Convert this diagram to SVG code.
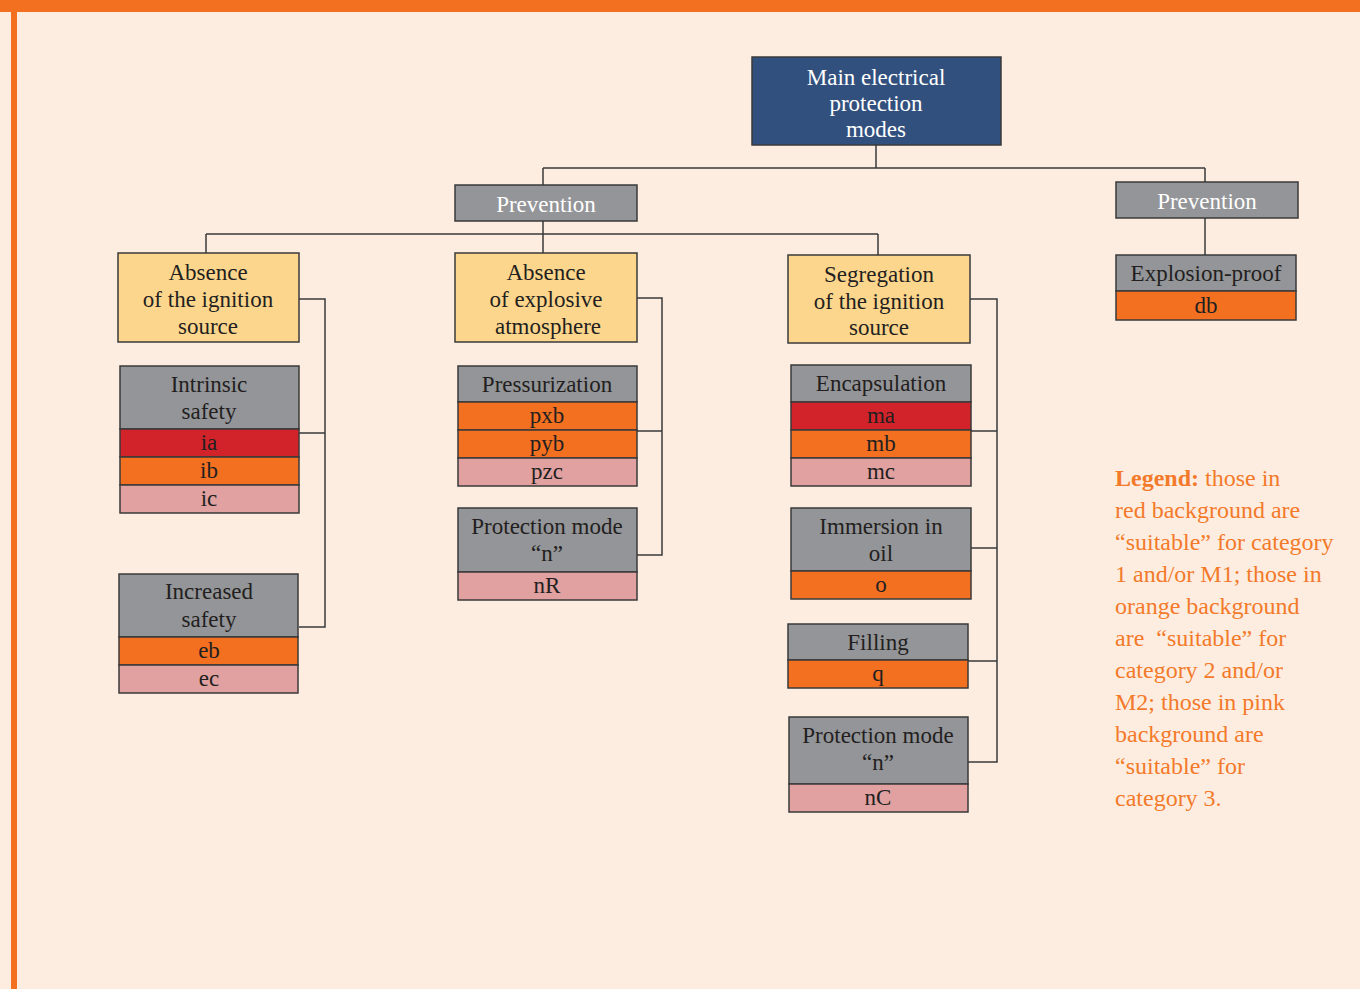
<svg xmlns="http://www.w3.org/2000/svg" width="1360" height="989" viewBox="0 0 1360 989">
<style>
text{font-family:"Liberation Serif","Times New Roman",serif;font-size:23px;text-anchor:middle;fill:#231f20}
.box{stroke:#3a3a3a;stroke-width:1.5}
.navy{fill:#32507e}
.gray{fill:#939598}
.yel{fill:#fdd68d}
.red{fill:#d2232a}
.org{fill:#f37021}
.pink{fill:#e0a1a0}
.w{fill:#ffffff}
.conn{fill:none;stroke:#3a3a3a;stroke-width:1.5}
.leg{font-size:24px;text-anchor:start;fill:#f37a2a}
</style>
<rect x="0" y="0" width="1360" height="989" fill="#fdede0"/>
<rect x="0" y="0" width="1360" height="12" fill="#f37021"/>
<rect x="11" y="0" width="6" height="989" fill="#f37021"/>

<g id="connectors" class="conn">
<path d="M876 145V168M543 168H1205M543 168V185M1205 168V182"/>
<path d="M543 221V234M206 234H878M206 234V253M543 234V253M878 234V255"/>
<path d="M1205 218V255"/>
<path d="M299 299H325V627H299M299 433H325"/>
<path d="M637 298H662V555H637M637 431H662"/>
<path d="M970 299H997V762H968M971 431H997M971 548H997M968 661H997"/>
</g>

<g id="main">
<rect class="box navy" x="752" y="57" width="249" height="88"/>
<text class="w" x="876" y="85">Main electrical</text>
<text class="w" x="876" y="111">protection</text>
<text class="w" x="876" y="137">modes</text>
</g>

<g id="prevention-left">
<rect class="box gray" x="455" y="185" width="182" height="36"/>
<text class="w" x="546" y="212">Prevention</text>
</g>

<g id="prevention-right">
<rect class="box gray" x="1116" y="182" width="182" height="36"/>
<text class="w" x="1207" y="209">Prevention</text>
</g>

<g id="absence-ignition">
<rect class="box yel" x="118" y="253" width="181" height="89"/>
<text x="208" y="280">Absence</text>
<text x="208" y="307">of the ignition</text>
<text x="208" y="334">source</text>
</g>

<g id="absence-explosive">
<rect class="box yel" x="455" y="253" width="182" height="89"/>
<text x="546" y="280">Absence</text>
<text x="546" y="307">of explosive</text>
<text x="548" y="334">atmosphere</text>
</g>

<g id="segregation">
<rect class="box yel" x="788" y="255" width="182" height="88"/>
<text x="879" y="282">Segregation</text>
<text x="879" y="309">of the ignition</text>
<text x="879" y="335">source</text>
</g>

<g id="intrinsic-safety">
<rect class="box gray" x="120" y="366" width="179" height="63"/>
<text x="209" y="392">Intrinsic</text>
<text x="209" y="419">safety</text>
<rect class="box red" x="120" y="429" width="179" height="28"/>
<text x="209" y="450">ia</text>
<rect class="box org" x="120" y="457" width="179" height="28"/>
<text x="209" y="478">ib</text>
<rect class="box pink" x="120" y="485" width="179" height="28"/>
<text x="209" y="506">ic</text>
</g>

<g id="increased-safety">
<rect class="box gray" x="119" y="574" width="179" height="63"/>
<text x="209" y="599">Increased</text>
<text x="209" y="627">safety</text>
<rect class="box org" x="119" y="637" width="179" height="28"/>
<text x="209" y="658">eb</text>
<rect class="box pink" x="119" y="665" width="179" height="28"/>
<text x="209" y="686">ec</text>
</g>

<g id="pressurization">
<rect class="box gray" x="458" y="366" width="179" height="36"/>
<text x="547" y="392">Pressurization</text>
<rect class="box org" x="458" y="402" width="179" height="28"/>
<text x="547" y="423">pxb</text>
<rect class="box org" x="458" y="430" width="179" height="28"/>
<text x="547" y="451">pyb</text>
<rect class="box pink" x="458" y="458" width="179" height="28"/>
<text x="547" y="479">pzc</text>
</g>

<g id="protection-n-r">
<rect class="box gray" x="458" y="508" width="179" height="64"/>
<text x="547" y="534">Protection mode</text>
<text x="547" y="561">“n”</text>
<rect class="box pink" x="458" y="572" width="179" height="28"/>
<text x="547" y="593">nR</text>
</g>

<g id="encapsulation">
<rect class="box gray" x="791" y="365" width="180" height="37"/>
<text x="881" y="391">Encapsulation</text>
<rect class="box red" x="791" y="402" width="180" height="28"/>
<text x="881" y="423">ma</text>
<rect class="box org" x="791" y="430" width="180" height="28"/>
<text x="881" y="451">mb</text>
<rect class="box pink" x="791" y="458" width="180" height="28"/>
<text x="881" y="479">mc</text>
</g>

<g id="immersion-oil">
<rect class="box gray" x="791" y="508" width="180" height="63"/>
<text x="881" y="534">Immersion in</text>
<text x="881" y="561">oil</text>
<rect class="box org" x="791" y="571" width="180" height="28"/>
<text x="881" y="592">o</text>
</g>

<g id="filling">
<rect class="box gray" x="788" y="624" width="180" height="36"/>
<text x="878" y="650">Filling</text>
<rect class="box org" x="788" y="660" width="180" height="28"/>
<text x="878" y="681">q</text>
</g>

<g id="protection-n-c">
<rect class="box gray" x="789" y="717" width="179" height="67"/>
<text x="878" y="743">Protection mode</text>
<text x="878" y="770">“n”</text>
<rect class="box pink" x="789" y="784" width="179" height="28"/>
<text x="878" y="805">nC</text>
</g>

<g id="explosion-proof">
<rect class="box gray" x="1116" y="255" width="180" height="36"/>
<text x="1206" y="281">Explosion-proof</text>
<rect class="box org" x="1116" y="291" width="180" height="29"/>
<text x="1206" y="313">db</text>
</g>

<g id="legend">
<text class="leg" x="1115" y="486"><tspan font-weight="bold">Legend:</tspan> those in</text>
<text class="leg" x="1115" y="518">red background are</text>
<text class="leg" x="1115" y="550">“suitable” for category</text>
<text class="leg" x="1115" y="582">1 and/or M1; those in</text>
<text class="leg" x="1115" y="614">orange background</text>
<text class="leg" x="1115" y="646" xml:space="preserve">are  “suitable” for</text>
<text class="leg" x="1115" y="678">category 2 and/or</text>
<text class="leg" x="1115" y="710">M2; those in pink</text>
<text class="leg" x="1115" y="742">background are</text>
<text class="leg" x="1115" y="774">“suitable” for</text>
<text class="leg" x="1115" y="806">category 3.</text>
</g>
</svg>
